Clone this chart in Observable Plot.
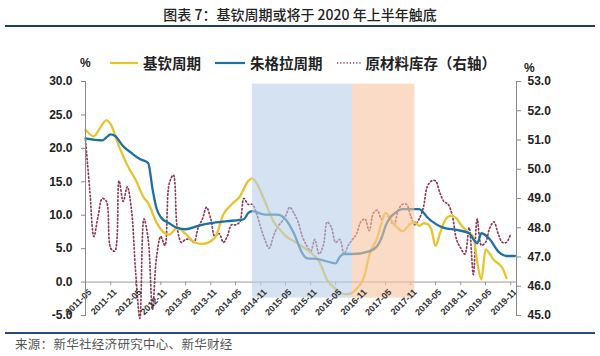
<!DOCTYPE html>
<html>
<head>
<meta charset="utf-8">
<script src="https://cdn.jsdelivr.net/npm/d3@7"></script>
<script src="https://cdn.jsdelivr.net/npm/@observablehq/plot@0.6"></script>
<style>
  html, body { margin: 0; padding: 0; background: #fff; }
  #page { position: relative; width: 600px; height: 356px; overflow: hidden; font-family: "Noto Sans CJK SC", "Liberation Sans", sans-serif; }
  #title { position: absolute; top: 4px; left: 0; width: 600px; text-align: center; font-size: 14px; line-height: 20px; color: #222; font-weight: 500; }
  .rule { position: absolute; left: 5px; width: 590px; height: 2px; background: #1f3a66; }
  .pct { position: absolute; font: bold 12px "Liberation Sans", Arial, sans-serif; color: #222; }
  #legend { position: absolute; top: 53px; left: 110px; display: flex; align-items: center; font-size: 14.5px; font-weight: 700; color: #222; line-height: 20px; }
  #legend .item { display: flex; align-items: center; margin-right: 14px; }
  #legend svg { margin-right: 5px; }
  #chart { position: absolute; top: 70px; left: 0; }
  #caption { position: absolute; top: 336px; left: 15px; font-size: 12.5px; color: #555; line-height: 16px; letter-spacing: 0.3px; }
</style>
</head>
<body>
<div id="page">
  <div id="title">图表 7：基钦周期或将于 2020 年上半年触底</div>
  <div class="rule" style="top:25px"></div>
  <div class="pct" style="left:80px;top:56px">%</div>
  <div class="pct" style="left:524px;top:61px">%</div>
  <div id="legend"></div>
  <div id="chart"></div>
  <div class="rule" style="top:332px;height:2px;background:#2b4a7a"></div>
  <div id="caption">来源：新华社经济研究中心、新华财经</div>
</div>
<script>
// ---------- data ----------
const seriesNames = ["基钦周期", "朱格拉周期", "原材料库存（右轴）"];
const seriesColors = ["#e6c42e", "#1f6fa3", "#8c3a55"];

const kitchinMonths = ["2011-05","2011-07","2011-08","2011-10","2011-11","2012-01","2012-03","2012-05","2012-07","2012-08","2012-10","2012-12","2013-01","2013-03","2013-05","2013-07","2013-09","2013-12","2014-02","2014-04","2014-06","2014-08","2014-09","2014-10","2014-12","2015-02","2015-04","2015-05","2015-07","2015-10","2015-11","2016-01","2016-03","2016-05","2016-07","2016-08","2016-10","2016-12","2017-01","2017-03","2017-04","2017-05","2017-07","2017-09","2017-11","2017-12","2018-01","2018-02","2018-03","2018-04","2018-05","2018-06","2018-07","2018-08","2018-09","2018-10","2018-11","2018-12","2019-01","2019-02","2019-03","2019-04","2019-05","2019-06","2019-07","2019-08","2019-09","2019-10"];
const kitchinValues = [22.8,21.8,22.6,24.2,23.6,20.3,17.5,15.3,12.6,11.8,8.9,7.3,7.1,8.1,7.2,6.0,5.7,6.6,10.1,11.6,12.8,15.1,15.5,14.8,12.1,9.1,7.6,6.9,6.1,4.9,4.4,3.1,0.3,-1.0,-1.8,-1.8,-1.0,1.2,4.0,6.6,8.8,10.3,8.7,7.6,8.8,9.0,8.4,8.8,8.7,7.8,5.4,7.2,8.9,9.8,9.9,9.5,8.6,7.9,7.3,6.8,3.0,0.4,4.9,4.2,3.3,2.8,2.1,0.6];

const juglarMonths = ["2011-05","2011-09","2011-11","2011-12","2012-02","2012-04","2012-06","2012-08","2012-09","2012-10","2012-11","2013-01","2013-03","2013-05","2013-08","2013-11","2014-03","2014-06","2014-07","2014-08","2014-09","2014-12","2015-03","2015-05","2015-07","2015-09","2015-10","2016-01","2016-04","2016-05","2016-06","2016-07","2016-09","2017-01","2017-03","2017-04","2017-05","2017-06","2017-07","2017-09","2017-11","2018-01","2018-02","2018-03","2018-05","2018-07","2018-10","2019-01","2019-02","2019-03","2019-04","2019-06","2019-08","2019-10","2019-11","2019-12"];
const juglarValues = [21.5,21.2,22.1,21.9,20.3,19.3,18.4,17.8,14.0,11.0,9.7,8.8,8.1,7.9,8.4,8.8,9.1,9.3,9.4,10.3,10.6,10.1,10.1,9.4,7.3,4.3,3.6,3.4,2.9,2.8,3.8,4.2,4.2,4.6,5.4,6.6,8.4,9.6,10.2,10.9,10.9,10.9,10.4,9.7,8.7,8.1,7.8,7.3,6.4,5.8,7.3,6.4,4.6,3.9,3.9,3.9];

// raw material inventory, monthly from 2011-05 to 2019-11 (right axis)
const inventoryFirstMonth = "2011-05";
const inventoryValues = [51.0,49.3,47.7,48.4,49.0,48.9,47.3,47.2,49.6,48.9,49.4,48.6,46.5,44.9,48.3,47.6,45.2,47.0,47.7,47.4,49.5,49.8,48.0,47.5,47.6,47.6,47.5,48.0,48.3,48.7,48.3,47.7,47.8,47.5,47.7,48.1,48.1,48.2,49.0,48.8,48.8,48.5,48.0,47.6,47.3,47.7,48.0,48.2,48.4,48.7,48.5,48.2,47.7,47.4,47.2,47.6,47.1,47.4,48.2,48.0,47.5,47.6,47.1,47.4,47.6,47.8,48.2,48.3,47.9,48.5,48.6,48.3,48.5,48.3,48.1,48.6,48.8,48.8,48.4,48.1,48.3,48.7,49.4,49.6,49.6,49.2,48.9,48.8,48.4,47.6,47.3,47.1,48.0,46.4,48.3,47.4,47.5,48.0,48.2,47.8,47.5,47.5,47.8];

const xTickLabels = ["2011-05","2011-11","2012-05","2012-11","2013-05","2013-11","2014-05","2014-11","2015-05","2015-11","2016-05","2016-11","2017-05","2017-11","2018-05","2018-11","2019-05","2019-11"];
const leftTicks = [-5, 0, 5, 10, 15, 20, 25, 30];
const rightTicks = [45, 46, 47, 48, 49, 50, 51, 52, 53];

const shadeStarts = ["2014-09", "2016-09"];
const shadeEnds = ["2016-09", "2017-12"];
const shadeColors = ["#b9cfe8", "#f6c4a0"];
const shadeTop = 29.6, shadeBottom = -2.4;

// ---------- helpers ----------
const parseMonth = d3.utcParse("%Y-%m");
const leftDomain = [-5, 30];
const rightDomain = [45, 53];
const rightToLeft = r => leftDomain[0] + (r - rightDomain[0]) * (leftDomain[1] - leftDomain[0]) / (rightDomain[1] - rightDomain[0]);
const leftToRight = l => rightDomain[0] + (l - leftDomain[0]) * (rightDomain[1] - rightDomain[0]) / (leftDomain[1] - leftDomain[0]);

const kitchin = kitchinMonths.map((m, i) => ({date: parseMonth(m), value: kitchinValues[i]}));
const juglar = juglarMonths.map((m, i) => ({date: parseMonth(m), value: juglarValues[i]}));
const invStart = parseMonth(inventoryFirstMonth);
const inventory = inventoryValues.map((v, i) => ({date: d3.utcMonth.offset(invStart, i), value: rightToLeft(v)}));
const xTicks = xTickLabels.map(parseMonth);
const shades = shadeStarts.map((s, i) => ({x1: parseMonth(s), x2: parseMonth(shadeEnds[i]), fill: shadeColors[i]}));

const xDomain = [parseMonth("2011-05"), d3.utcDay.offset(parseMonth("2019-12"), 12)];

// ---------- legend ----------
const legend = document.getElementById("legend");
const swatchW = [28, 30, 24];
seriesNames.forEach((name, i) => {
  const item = document.createElement("div");
  item.className = "item";
  const dash = i === 2 ? 'stroke-dasharray="1.2 2"' : "";
  const sw = i === 2 ? 1.4 : 2.2;
  item.innerHTML = `<svg width="${swatchW[i]}" height="10"><line x1="0" x2="${swatchW[i]}" y1="5" y2="5" stroke="${seriesColors[i]}" stroke-width="${sw}" ${dash}/></svg><span>${name}</span>`;
  legend.appendChild(item);
});

// ---------- chart ----------
const chart = Plot.plot({
  width: 600,
  height: 262,
  marginLeft: 85,
  marginRight: 84,
  marginTop: 11,
  marginBottom: 17,
  style: {fontFamily: '"Liberation Sans", Arial, sans-serif', background: "transparent", overflow: "visible"},
  x: {type: "utc", domain: xDomain, axis: null},
  y: {domain: leftDomain, axis: null},
  marks: [
    Plot.ruleY([0], {stroke: "#9a9a9a", strokeWidth: 1}),
    Plot.ruleX(xTicks, {y1: 0, y2: -0.55, stroke: "#9a9a9a"}),
    Plot.lineY(inventory, {x: "date", y: "value", stroke: seriesColors[2], strokeWidth: 1.7, strokeDasharray: "1.3 2.4", curve: "catmull-rom"}),
    Plot.lineY(kitchin, {x: "date", y: "value", stroke: seriesColors[0], strokeWidth: 2.3, curve: "monotone-x"}),
    Plot.lineY(juglar, {x: "date", y: "value", stroke: seriesColors[1], strokeWidth: 2.3, curve: "monotone-x"}),
    Plot.rect(shades, {x1: "x1", x2: "x2", y1: shadeBottom, y2: shadeTop, fill: "fill", fillOpacity: 0.6}),
    Plot.text(xTicks, {x: d => d, y: 0, text: (d, i) => xTickLabels[i], rotate: -45, textAnchor: "end", lineAnchor: "top", dx: 2, dy: 6, fontSize: 9, fontWeight: "bold", fill: "#333"}),
    Plot.frame({anchor: "left", stroke: "#8a8a8a"}),
    Plot.frame({anchor: "right", stroke: "#8a8a8a"}),
    Plot.axisY(leftTicks, {anchor: "left", label: null, tickSize: 4, tickPadding: 9, tickFormat: d => d.toFixed(1), fontSize: 12, fontWeight: "bold", stroke: "#8a8a8a", color: "#222"}),
    Plot.axisY(rightTicks.map(rightToLeft), {anchor: "right", label: null, tickSize: 4, tickPadding: 7, tickFormat: d => leftToRight(d).toFixed(1), fontSize: 12, fontWeight: "bold", stroke: "#8a8a8a", color: "#222"})
  ]
});
document.getElementById("chart").appendChild(chart);
</script>
</body>
</html>
